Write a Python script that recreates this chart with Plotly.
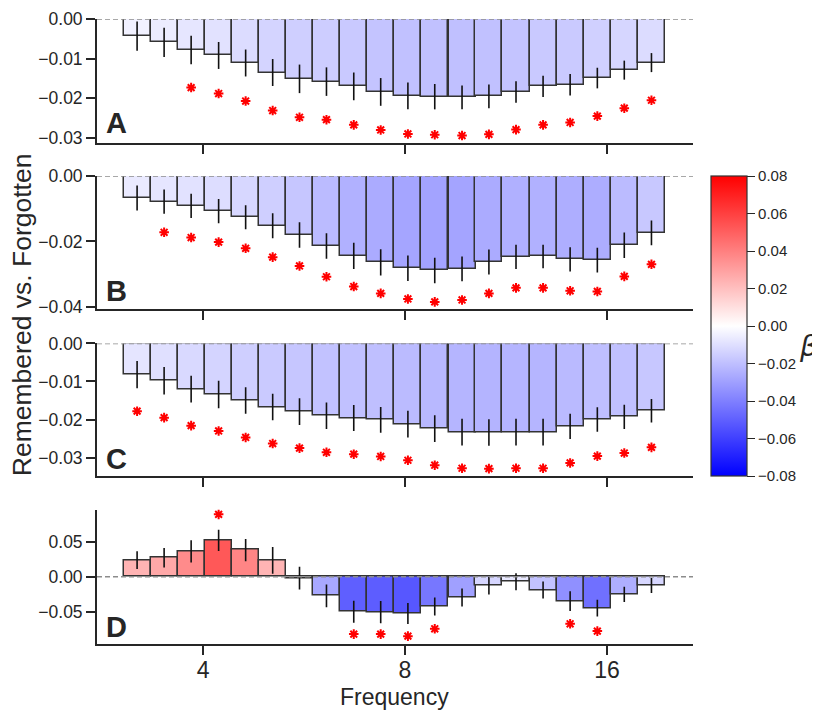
import numpy as np
import plotly.graph_objects as go

# centre frequencies (Hz) of the 20 bins
freqs = [3.19, 3.50, 3.84, 4.22, 4.63, 5.08, 5.57, 6.11, 6.71, 7.36,
         8.08, 8.86, 9.73, 10.67, 11.71, 12.85, 14.10, 15.48, 16.98, 18.64]

beta_a = [-0.0043, -0.0059, -0.0078, -0.0092, -0.0111, -0.0135, -0.0151, -0.0158, -0.0170, -0.0184,
          -0.0194, -0.0196, -0.0198, -0.0195, -0.0184, -0.0170, -0.0166, -0.0149, -0.0129, -0.0110]
sem_a = [0.0037, 0.0037, 0.0036, 0.0034, 0.0034, 0.0034, 0.0036, 0.0036, 0.0035, 0.0035,
         0.0034, 0.0032, 0.0030, 0.0030, 0.0027, 0.0027, 0.0027, 0.0026, 0.0024, 0.0024]
star_a = [None, None, -0.0173, -0.0188, -0.0207, -0.0231, -0.0248, -0.0254, -0.0267, -0.0280,
          -0.0290, -0.0292, -0.0294, -0.0291, -0.0279, -0.0267, -0.0261, -0.0245, -0.0225, -0.0205]

beta_b = [-0.0067, -0.0078, -0.0091, -0.0107, -0.0126, -0.0152, -0.0180, -0.0214, -0.0244, -0.0264,
          -0.0282, -0.0289, -0.0284, -0.0263, -0.0247, -0.0246, -0.0255, -0.0257, -0.0212, -0.0174]
sem_b = [0.0038, 0.0037, 0.0037, 0.0037, 0.0037, 0.0038, 0.0039, 0.0039, 0.0040, 0.0040,
         0.0039, 0.0039, 0.0038, 0.0038, 0.0037, 0.0036, 0.0037, 0.0038, 0.0039, 0.0038]
star_b = [None, -0.0172, -0.0188, -0.0202, -0.0221, -0.0248, -0.0275, -0.0308, -0.0338, -0.0359,
          -0.0376, -0.0385, -0.0379, -0.0359, -0.0342, -0.0342, -0.0351, -0.0353, -0.0307, -0.0270]

beta_c = [-0.0082, -0.0098, -0.0120, -0.0134, -0.0150, -0.0167, -0.0179, -0.0190, -0.0196, -0.0201,
          -0.0212, -0.0224, -0.0233, -0.0234, -0.0233, -0.0233, -0.0218, -0.0200, -0.0193, -0.0177]
sem_c = [0.0036, 0.0036, 0.0035, 0.0036, 0.0035, 0.0035, 0.0035, 0.0035, 0.0034, 0.0034,
         0.0035, 0.0035, 0.0035, 0.0035, 0.0035, 0.0035, 0.0033, 0.0032, 0.0032, 0.0031]
star_c = [-0.0178, -0.0195, -0.0216, -0.0230, -0.0247, -0.0263, -0.0275, -0.0286, -0.0291, -0.0297,
          -0.0307, -0.0320, -0.0328, -0.0329, -0.0328, -0.0328, -0.0314, -0.0296, -0.0288, -0.0273]

beta_d = [0.0240, 0.0273, 0.0364, 0.0523, 0.0384, 0.0235, -0.0019, -0.0273, -0.0503, -0.0507,
          -0.0527, -0.0426, -0.0297, -0.0129, -0.0071, -0.0191, -0.0349, -0.0450, -0.0253, -0.0124]
sem_d = [0.0127, 0.0141, 0.0160, 0.0153, 0.0160, 0.0192, 0.0163, 0.0163, 0.0158, 0.0160,
         0.0151, 0.0129, 0.0129, 0.0125, 0.0122, 0.0122, 0.0141, 0.0122, 0.0110, 0.0108]
star_d = [None, None, None, 0.0896, None, None, None, None, -0.0823, -0.0823,
          -0.0852, -0.0747, None, None, None, None, -0.0675, -0.0780, None, None]

panel_labels = ["A", "B", "C", "D"]
freq_ticks = [4, 8, 16]

INK = "#262626"
FONT = "Liberation Sans, Arial, sans-serif"
bwr = [[0.0, "rgb(0,0,255)"], [0.5, "rgb(255,255,255)"], [1.0, "rgb(255,0,0)"]]

panels = [
    dict(beta=beta_a, sem=sem_a, star=star_a, rng=[-0.0313, 0.0], ticks=[0, -0.01, -0.02, -0.03],
         dom=[0.8015, 1.0], lab_y=0.161),
    dict(beta=beta_b, sem=sem_b, star=star_b, rng=[-0.0408, 0.0], ticks=[0, -0.02, -0.04],
         dom=[0.5353, 0.7487], lab_y=0.137),
    dict(beta=beta_c, sem=sem_c, star=star_c, rng=[-0.0349, 0.0], ticks=[0, -0.01, -0.02, -0.03],
         dom=[0.2684, 0.4809], lab_y=0.128),
    dict(beta=beta_d, sem=sem_d, star=star_d, rng=[-0.0965, 0.0965], ticks=[-0.05, 0, 0.05],
         dom=[0.0, 0.2151], lab_y=0.126),
]

xpos = np.log2(freqs)
fig = go.Figure()
layout = {}
shapes = []
annotations = []

for i, p in enumerate(panels):
    n = "" if i == 0 else str(i + 1)
    xa, ya = "x" + n, "y" + n
    fig.add_trace(go.Bar(
        x=xpos, y=p["beta"], width=0.134,
        marker=dict(color=p["beta"], coloraxis="coloraxis",
                    line=dict(color="#333333", width=1.5)),
        error_y=dict(type="data", array=p["sem"], color="#111111", thickness=1.6, width=0),
        xaxis=xa, yaxis=ya, showlegend=False, hoverinfo="skip",
    ))
    fig.add_trace(go.Scatter(
        x=xpos, y=p["star"], mode="markers",
        marker=dict(symbol="asterisk-open", size=8, color="red",
                    line=dict(color="red", width=2.0)),
        xaxis=xa, yaxis=ya, showlegend=False, hoverinfo="skip",
    ))
    layout["xaxis" + n] = dict(
        domain=[0, 1], anchor=ya, range=[1.475, 4.426], automargin=False,
        tickvals=np.log2(freq_ticks), ticktext=[str(f) for f in freq_ticks],
        showticklabels=(i == 3), ticks="outside", ticklen=9, tickwidth=1.5, tickcolor=INK,
        ticklabelstandoff=-5,
        showline=True, linewidth=1.8, linecolor=INK, showgrid=False, zeroline=False,
        tickfont=dict(size=23, color=INK, family=FONT),
    )
    layout["yaxis" + n] = dict(
        domain=p["dom"], anchor=xa, range=p["rng"], tickvals=p["ticks"], tickformat=".2f",
        automargin=False, ticklabeloverflow="allow",
        ticks="outside", ticklen=9, tickwidth=1.5, tickcolor=INK,
        showline=True, linewidth=1.8, linecolor=INK, showgrid=False, zeroline=False,
        tickfont=dict(size=17.5, color=INK, family=FONT),
    )
    shapes.append(dict(type="line", xref=xa + " domain", yref=ya, x0=0, x1=1, y0=0, y1=0,
                       line=dict(color="#8c8c8c", width=1.5, dash="5px,3px"), layer="above"))
    annotations.append(dict(text="<b>%s</b>" % panel_labels[i], xref=xa + " domain",
                            yref=ya + " domain", x=0.011, y=p["lab_y"], xanchor="left",
                            yanchor="middle", showarrow=False,
                            font=dict(size=29, color=INK, family=FONT)))

annotations += [
    dict(text="Remembered vs. Forgotten", xref="paper", yref="paper", x=-0.1258, y=0.5262,
         textangle=-90, showarrow=False, xanchor="center", yanchor="middle",
         font=dict(size=26.5, color=INK, family=FONT)),
    dict(text="Frequency", xref="paper", yref="paper", x=0.4988, y=-0.0853,
         showarrow=False, xanchor="center", yanchor="middle",
         font=dict(size=23, color=INK, family=FONT)),
    dict(text="<i>β</i>", xref="paper", yref="paper", x=1.193, y=0.4766,
         showarrow=False, xanchor="center", yanchor="middle",
         font=dict(size=28, color=INK, family="DejaVu Sans")),
]

# the page body adds an 8px offset, so margins are shifted to compensate
fig.update_layout(
    **layout,
    width=820, height=713,
    margin=dict(l=89, r=135, t=11, b=77, autoexpand=False),
    paper_bgcolor="white", plot_bgcolor="white",
    bargap=0,
    shapes=shapes, annotations=annotations,
    coloraxis=dict(
        colorscale=bwr, cmin=-0.08, cmax=0.08,
        colorbar=dict(
            x=1.0302, xanchor="left", xpad=0, y=0.5086, yanchor="middle", ypad=0,
            len=300, lenmode="pixels", thickness=36, thicknessmode="pixels",
            outlinecolor="#333333", outlinewidth=1.2,
            tickvals=[-0.08, -0.06, -0.04, -0.02, 0, 0.02, 0.04, 0.06, 0.08], tickformat=".2f",
            ticks="outside", ticklen=8, tickwidth=1.2, tickcolor=INK,
            tickfont=dict(size=15, color=INK, family=FONT),
        ),
    ),
)

fig.write_html("out.html")
